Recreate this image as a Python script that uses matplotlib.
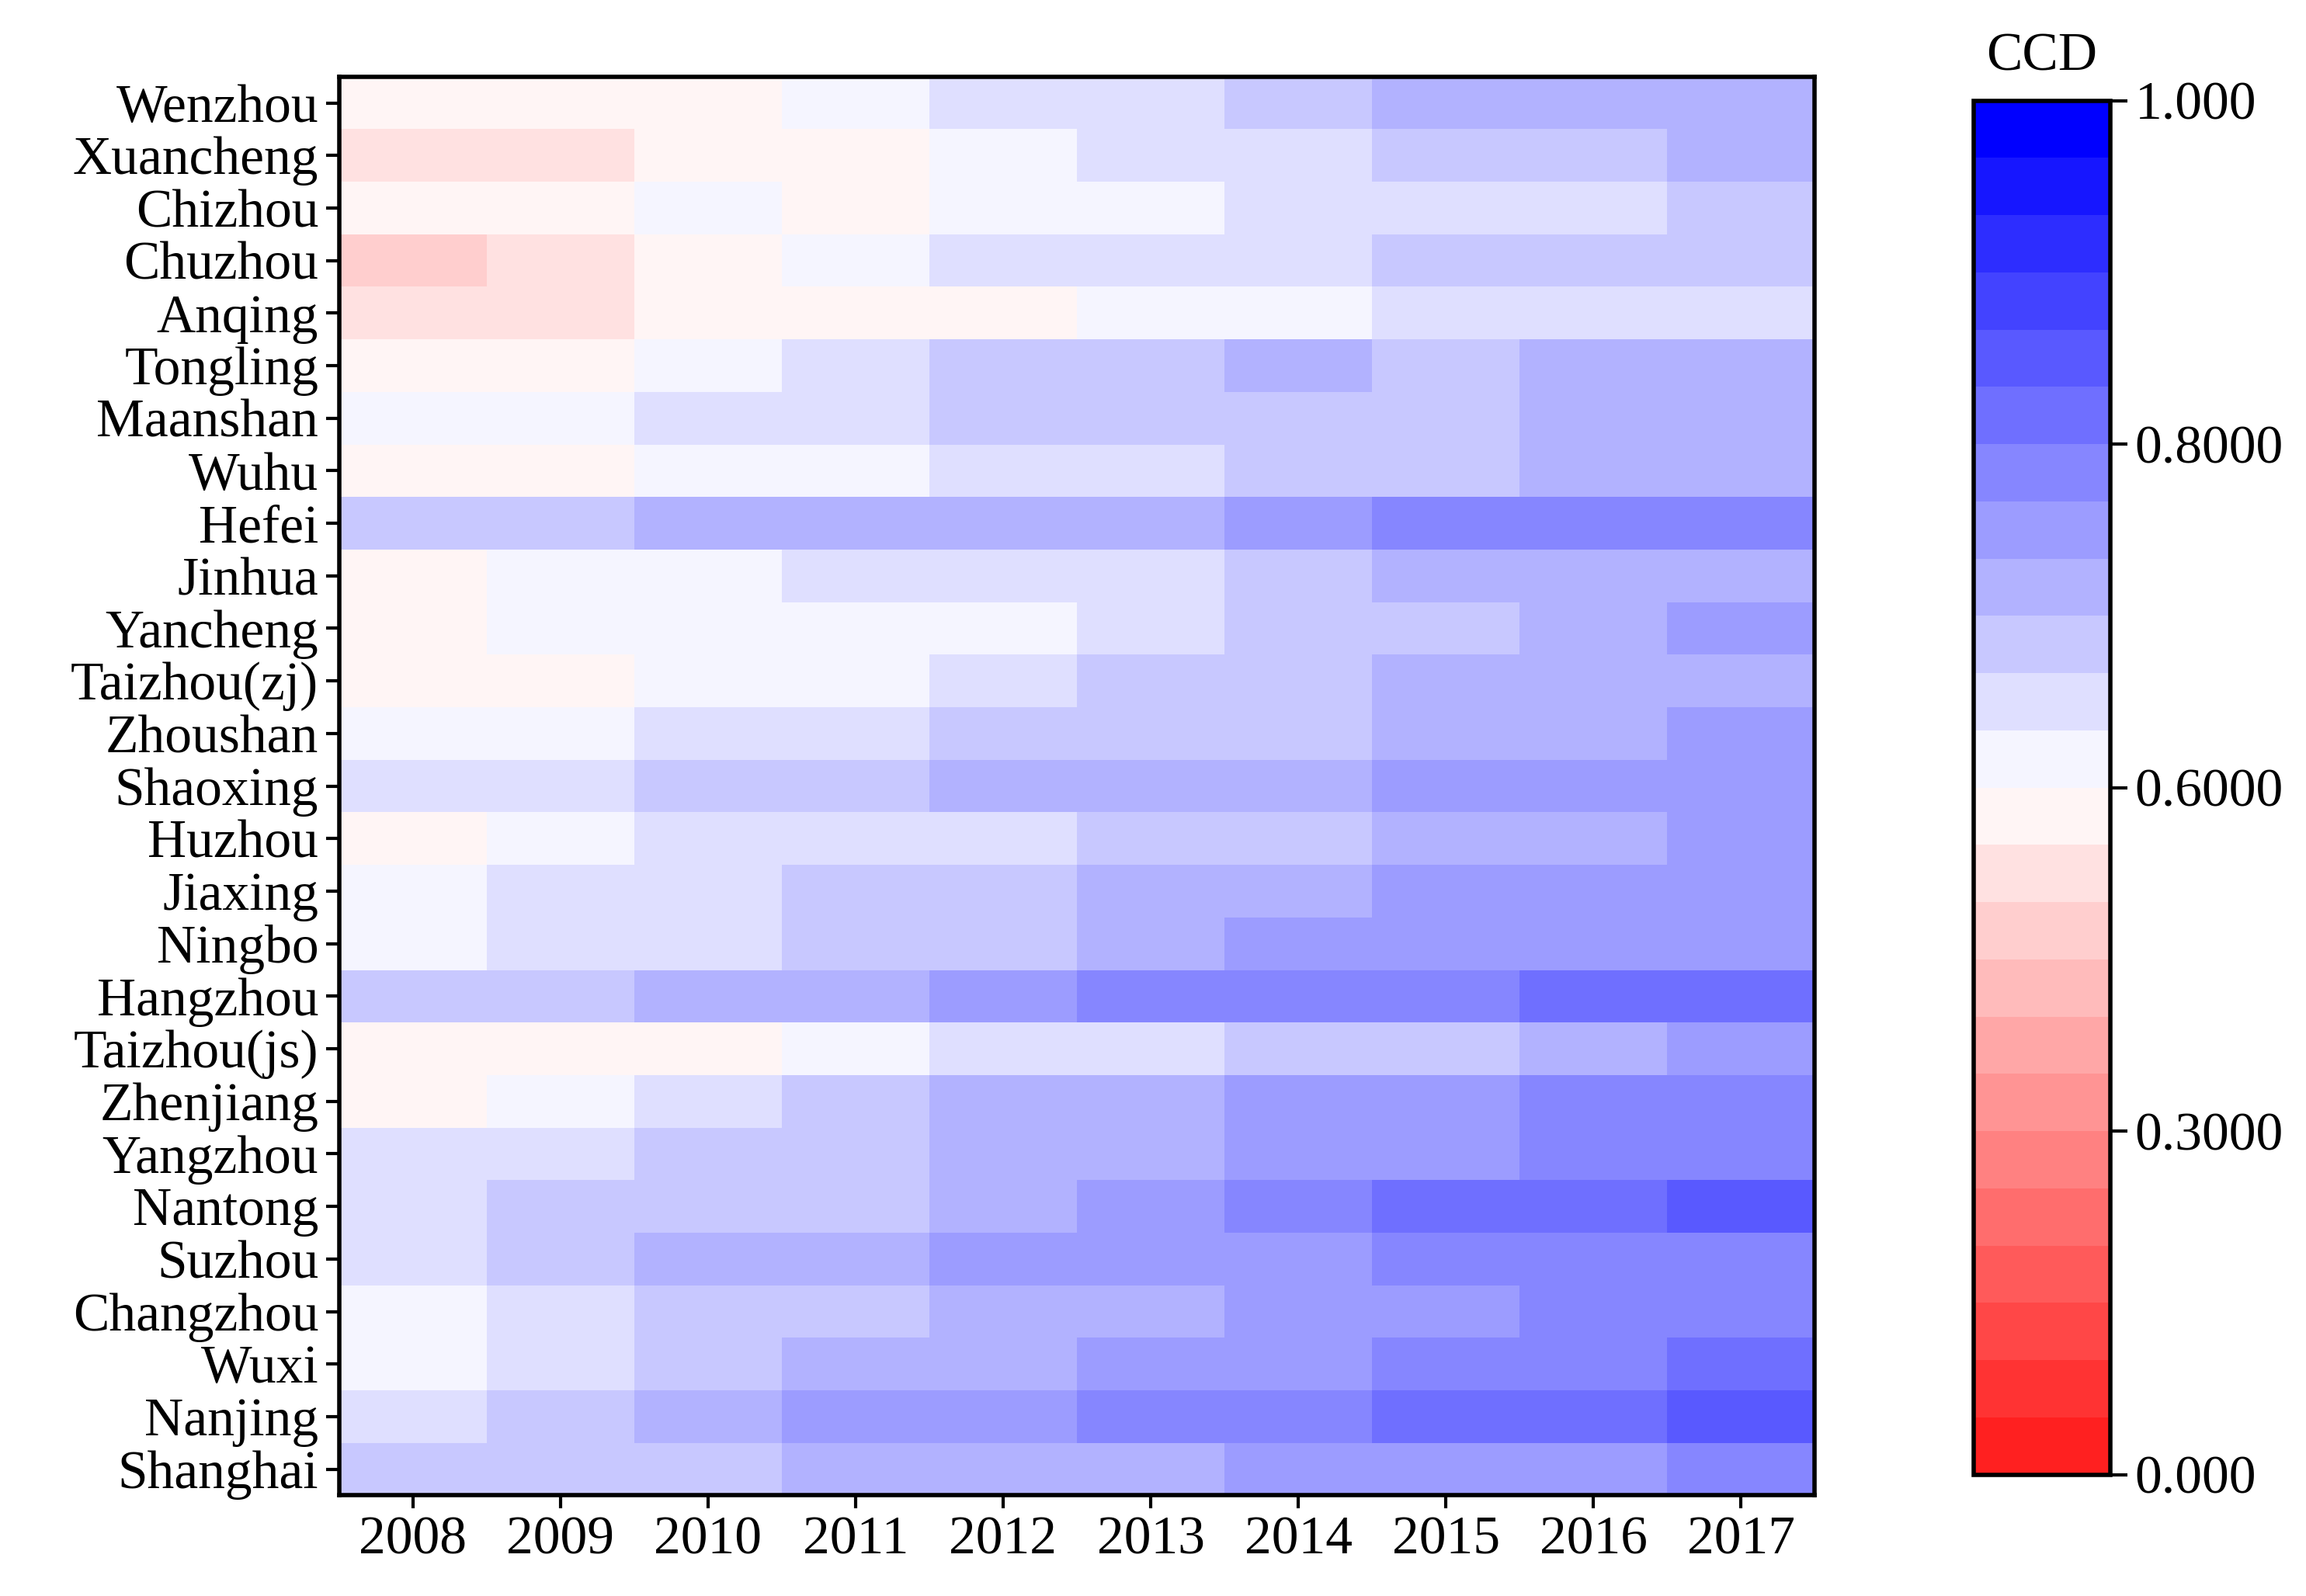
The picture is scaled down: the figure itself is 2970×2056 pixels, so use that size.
import numpy as np
import matplotlib.pyplot as plt
from matplotlib.colors import ListedColormap, BoundaryNorm

plt.rcParams['font.family'] = ['Liberation Serif', 'DejaVu Serif']

years = ['2008', '2009', '2010', '2011', '2012', '2013', '2014', '2015', '2016', '2017']
cities = ['Wenzhou', 'Xuancheng', 'Chizhou', 'Chuzhou', 'Anqing', 'Tongling', 'Maanshan',
          'Wuhu', 'Hefei', 'Jinhua', 'Yancheng', 'Taizhou(zj)', 'Zhoushan', 'Shaoxing',
          'Huzhou', 'Jiaxing', 'Ningbo', 'Hangzhou', 'Taizhou(js)', 'Zhenjiang', 'Yangzhou',
          'Nantong', 'Suzhou', 'Changzhou', 'Wuxi', 'Nanjing', 'Shanghai']

ccd = np.array([
    [0.58, 0.58, 0.58, 0.62, 0.65, 0.65, 0.68, 0.71, 0.71, 0.71],
    [0.53, 0.53, 0.58, 0.58, 0.62, 0.65, 0.65, 0.68, 0.68, 0.71],
    [0.58, 0.58, 0.62, 0.58, 0.62, 0.62, 0.65, 0.65, 0.65, 0.68],
    [0.48, 0.53, 0.58, 0.62, 0.65, 0.65, 0.65, 0.68, 0.68, 0.68],
    [0.53, 0.53, 0.58, 0.58, 0.58, 0.62, 0.62, 0.65, 0.65, 0.65],
    [0.58, 0.58, 0.62, 0.65, 0.68, 0.68, 0.71, 0.68, 0.71, 0.71],
    [0.62, 0.62, 0.65, 0.65, 0.68, 0.68, 0.68, 0.68, 0.71, 0.71],
    [0.58, 0.58, 0.62, 0.62, 0.65, 0.65, 0.68, 0.68, 0.71, 0.71],
    [0.68, 0.68, 0.71, 0.71, 0.71, 0.71, 0.75, 0.78, 0.78, 0.78],
    [0.58, 0.62, 0.62, 0.65, 0.65, 0.65, 0.68, 0.71, 0.71, 0.71],
    [0.58, 0.62, 0.62, 0.62, 0.62, 0.65, 0.68, 0.68, 0.71, 0.75],
    [0.58, 0.58, 0.62, 0.62, 0.65, 0.68, 0.68, 0.71, 0.71, 0.71],
    [0.62, 0.62, 0.65, 0.65, 0.68, 0.68, 0.68, 0.71, 0.71, 0.75],
    [0.65, 0.65, 0.68, 0.68, 0.71, 0.71, 0.71, 0.75, 0.75, 0.75],
    [0.58, 0.62, 0.65, 0.65, 0.65, 0.68, 0.68, 0.71, 0.71, 0.75],
    [0.62, 0.65, 0.65, 0.68, 0.68, 0.71, 0.71, 0.75, 0.75, 0.75],
    [0.62, 0.65, 0.65, 0.68, 0.68, 0.71, 0.75, 0.75, 0.75, 0.75],
    [0.68, 0.68, 0.71, 0.71, 0.75, 0.78, 0.78, 0.78, 0.82, 0.82],
    [0.58, 0.58, 0.58, 0.62, 0.65, 0.65, 0.68, 0.68, 0.71, 0.75],
    [0.58, 0.62, 0.65, 0.68, 0.71, 0.71, 0.75, 0.75, 0.78, 0.78],
    [0.65, 0.65, 0.68, 0.68, 0.71, 0.71, 0.75, 0.75, 0.78, 0.78],
    [0.65, 0.68, 0.68, 0.68, 0.71, 0.75, 0.78, 0.82, 0.82, 0.85],
    [0.65, 0.68, 0.71, 0.71, 0.75, 0.75, 0.75, 0.78, 0.78, 0.78],
    [0.62, 0.65, 0.68, 0.68, 0.71, 0.71, 0.75, 0.75, 0.78, 0.78],
    [0.62, 0.65, 0.68, 0.71, 0.71, 0.75, 0.75, 0.78, 0.78, 0.82],
    [0.65, 0.68, 0.71, 0.75, 0.75, 0.78, 0.78, 0.82, 0.82, 0.85],
    [0.68, 0.68, 0.68, 0.71, 0.71, 0.71, 0.75, 0.75, 0.75, 0.78],
])

# 24 discrete bands: 0-0.6 in steps of 0.05, 0.6-1.0 in steps of 1/30
bounds = np.concatenate([np.linspace(0, 0.6, 13), np.linspace(0.6, 1.0, 13)[1:]])
reds = [(1, 1 - t, 1 - t) for t in np.linspace(0.875, 0.04, 12)]
blues = [(1 - t, 1 - t, 1) for t in np.linspace(0.04, 1.0, 12)]
cmap = ListedColormap(reds + blues)
norm = BoundaryNorm(bounds, cmap.N)

fig = plt.figure(figsize=(14.85, 10.28), dpi=200)
ax = fig.add_axes([0.147, 0.063, 0.64, 0.889])
ax.pcolormesh(ccd, cmap=cmap, norm=norm)
ax.set_xlim(0, len(years))
ax.set_ylim(len(cities), 0)
ax.set_xticks(np.arange(len(years)) + 0.5)
ax.set_xticklabels(years, fontsize=25)
ax.set_yticks(np.arange(len(cities)) + 0.5)
ax.set_yticklabels(cities, fontsize=25)
ax.tick_params(length=6, width=1.5)
for s in ax.spines.values():
    s.set_linewidth(2)

cax = fig.add_axes([0.856, 0.076, 0.059, 0.861])
cb = fig.colorbar(plt.cm.ScalarMappable(norm=norm, cmap=cmap), cax=cax, spacing='uniform')
cb.set_ticks([0.0, 0.3, 0.6, 0.8, 1.0])
cb.set_ticklabels(['0.000', '0.3000', '0.6000', '0.8000', '1.000'])
cb.ax.minorticks_off()
cb.ax.tick_params(labelsize=25, length=8, width=1.5)
cb.outline.set_linewidth(2)
cb.ax.set_title('CCD', fontsize=25, pad=14)

fig.savefig('out.png', dpi=200)
